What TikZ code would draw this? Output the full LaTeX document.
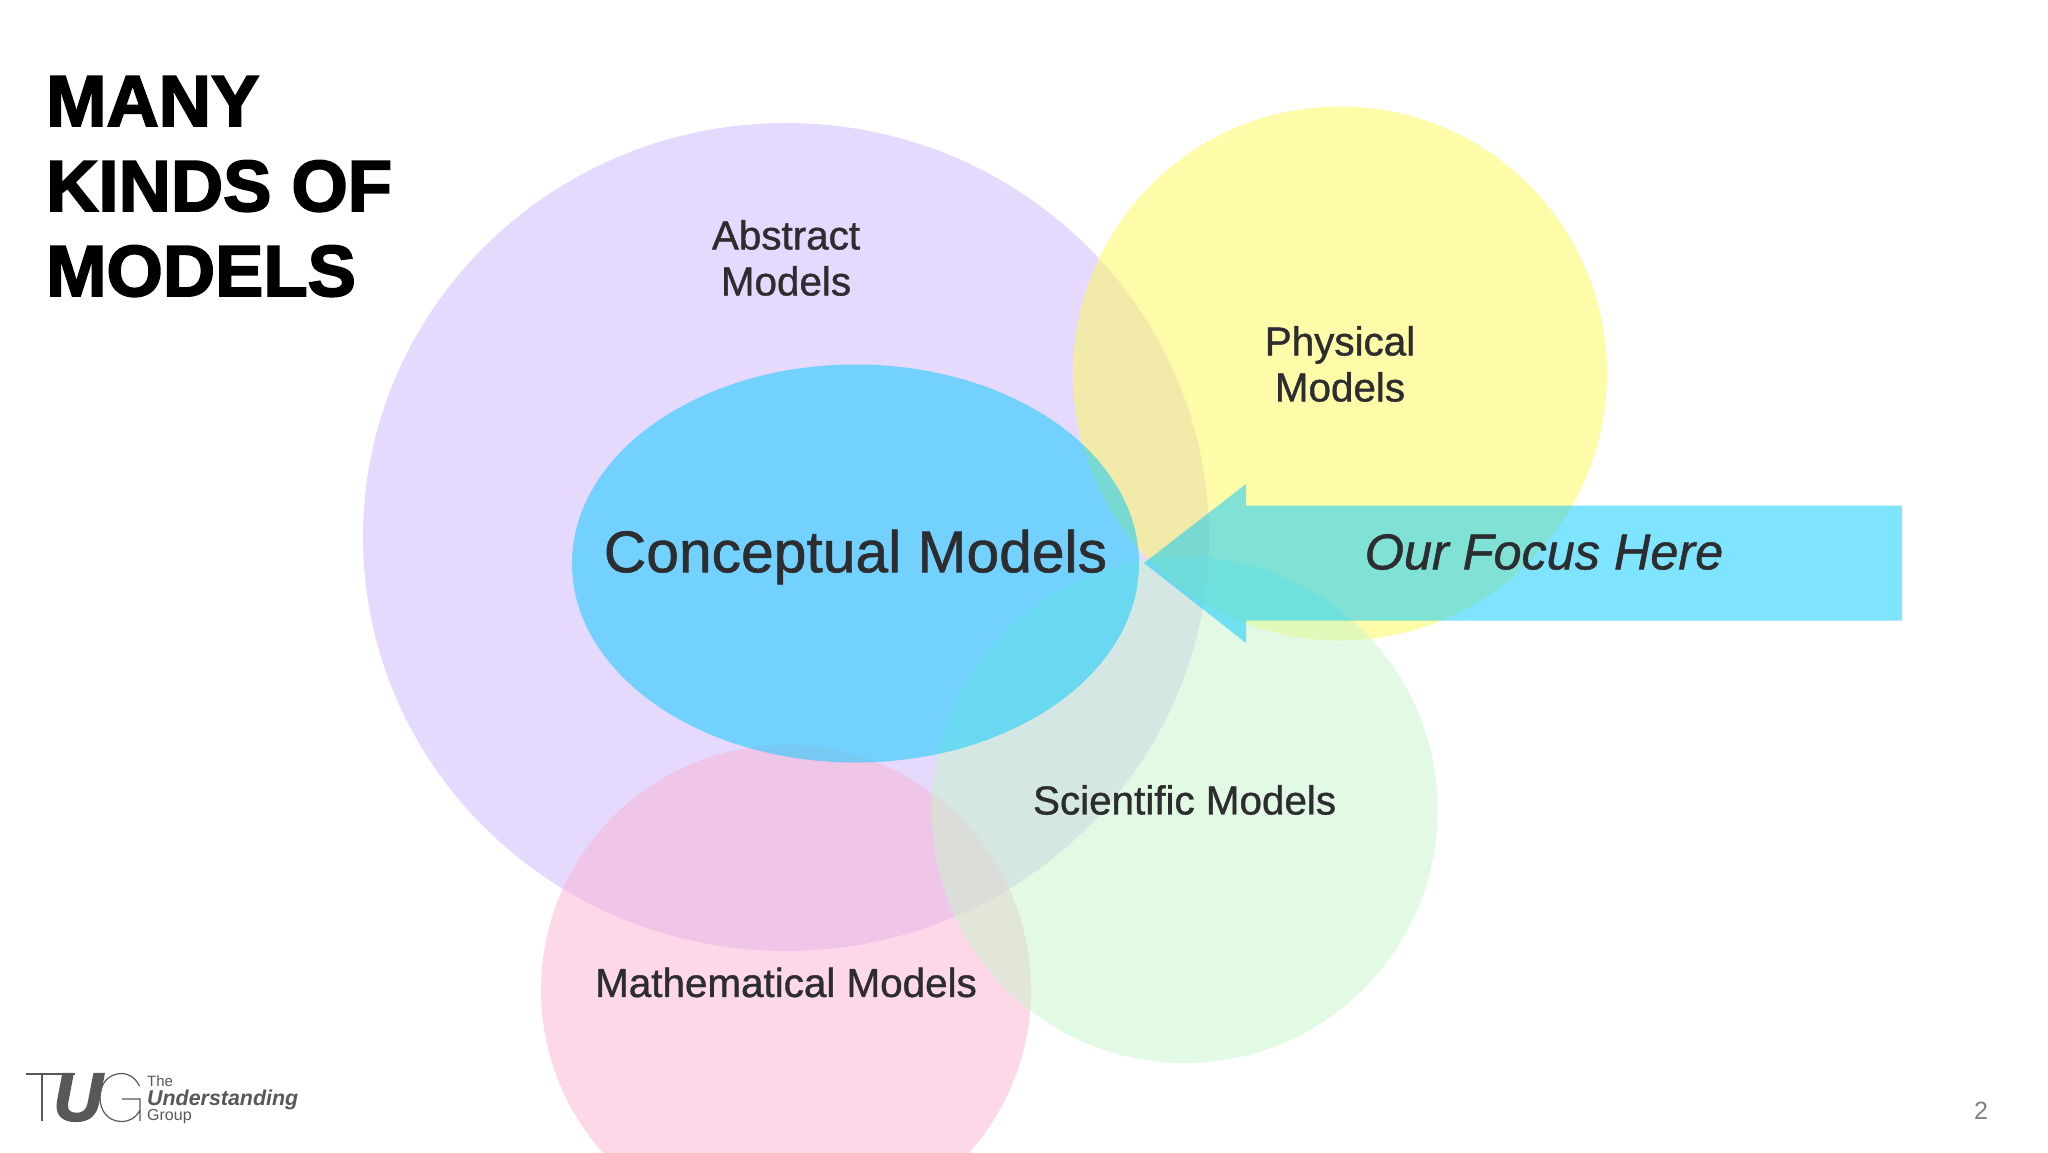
\documentclass[tikz,border=0pt]{standalone}
\usepackage{fontspec}
\usepackage{xcolor}
\usetikzlibrary{positioning}
\setmainfont{Liberation Sans}
\newfontfamily\titlefont[FakeBold=2.5]{Liberation Sans Bold}
\newfontfamily\labelfont[FakeBold=1]{Liberation Sans}
\definecolor{purplec}{HTML}{CDB7FC}
\definecolor{yellowc}{HTML}{FFFA54}
\definecolor{pinkc}{HTML}{FBB3D5}
\definecolor{greenc}{HTML}{C7F5C9}
\definecolor{cyanc}{HTML}{00CAFF}
\definecolor{textc}{HTML}{2D2D30}
\definecolor{logoc}{HTML}{58585A}
\tikzset{
    lbl/.style={inner sep=0pt, align=center, text=textc, font=\fontsize{40.4}{46}\labelfont},
    logotext/.style={inner sep=0pt, anchor=west, text=logoc}
}

\begin{document}
\begin{tikzpicture}[x=1pt,y=-1pt]
    \fill[white] (0,0) rectangle (2048,1152);
    \useasboundingbox (0,0) rectangle (2048,1152);

    % Draw the circles, back to front
    \foreach \cx/\cy/\rx/\ry/\ca in {786/537/423/414/purplec, 1340/373.5/267/267/yellowc, 786/990/245/245/pinkc, 1184.6/810/253/253/greenc, 855.5/563.5/283.5/199/cyanc} {
        \fill[\ca, opacity=0.5] (\cx,\cy) ellipse [x radius=\rx pt, y radius=\ry pt];
    }

    % Draw the arrow
    \fill[cyanc, opacity=0.5] (1144,563) -- (1246,484) -- (1246,505.5) -- (1902,505.5) -- (1902,620.5) -- (1246,620.5) -- (1246,643) -- cycle;

    % Labels
    \node[lbl] (abstract) at (786,258) {Abstract\\Models};
    \node[lbl] (physical) at (1340,364) {Physical\\Models};
    \node[lbl] (scientific) at (1184.6,800) {Scientific Models};
    \node[lbl] (mathematical) at (786,982.5) {Mathematical Models};
    \node[lbl, font=\fontsize{58.8}{66}\labelfont] (conceptual) at (855.5,557) {Conceptual Models};
    \node[lbl, font=\fontsize{50.4}{58}\labelfont\itshape] (focus) at (1544,552) {Our Focus Here};

    % Title
    \node[inner sep=0pt, anchor=north west, align=left, text=black, font=\fontsize{72.4}{85}\titlefont] (title) at (46,76) {MANY\\KINDS OF\\MODELS};

    % Logo
    \draw[logoc, line width=1.3pt] (26,1074) -- (75,1074) (42,1074) -- (42,1121);
    \node[inner sep=0pt, text=logoc, font=\fontsize{68}{68}\titlefont\itshape] (logou) at (78,1097.5) {U};
    \draw[logoc, line width=1.2pt] (139.5,1086) .. controls (135,1077) and (128,1073.5) .. (122,1073.5) .. controls (108,1073.5) and (100,1084) .. (100,1097.5) .. controls (100,1111) and (108,1121.5) .. (122,1121.5) .. controls (129,1121.5) and (136,1118) .. (140,1110) -- (140,1099) -- (122,1099) (140,1110) -- (140,1121);
    \node[logotext, font=\fontsize{15}{15}\selectfont] (logothe) at (147,1081) {The};
    \node[logotext, font=\fontsize{21.4}{21}\bfseries\itshape] (logound) at (147,1100) {Understanding};
    \node[logotext, font=\fontsize{16}{16}\selectfont] (logogroup) at (147,1117) {Group};

    % Page number
    \node[inner sep=0pt, text=gray, font=\fontsize{25}{25}\selectfont] (pagenum) at (1981,1111) {2};
\end{tikzpicture}
\end{document}
